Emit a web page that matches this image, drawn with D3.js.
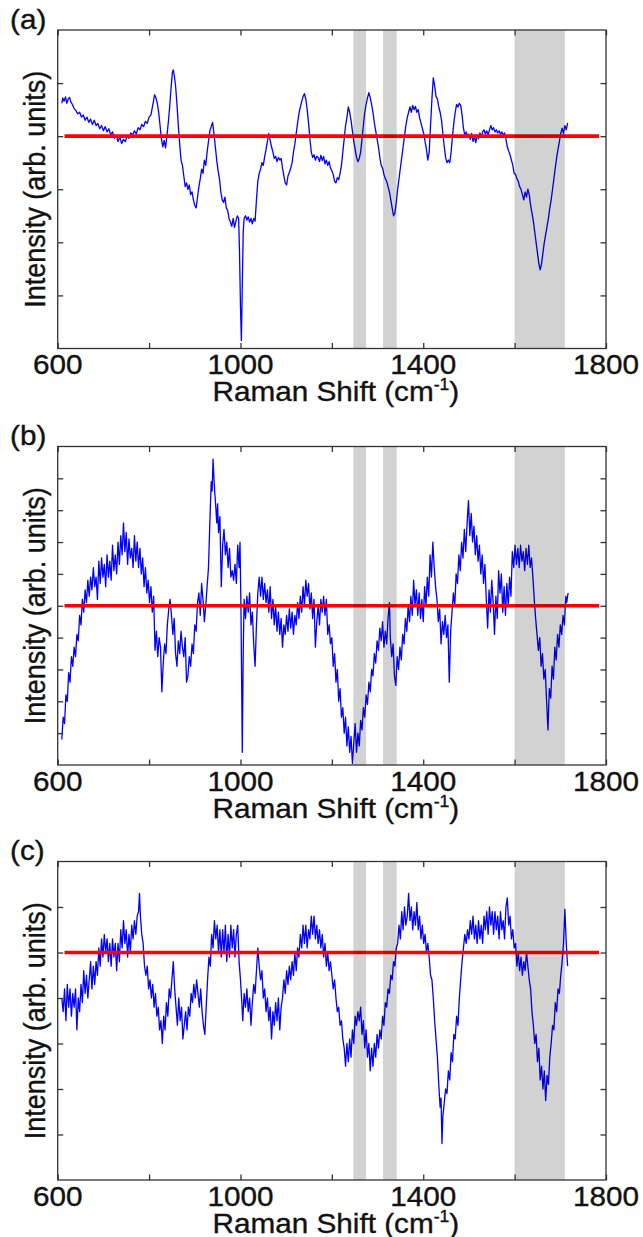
<!DOCTYPE html>
<html>
<head>
<meta charset="utf-8">
<script src="https://cdn.jsdelivr.net/npm/d3@7"></script>
<style>
body { margin: 0; background: #fff; }
text { font-family: "Liberation Sans", Arial, sans-serif; fill: #111; stroke: #111; stroke-width: 0.35; }
</style>
</head>
<body>
<div id="app"></div>
<script>
// data: [Raman shift (cm-1), intensity (arb. units)]
var spectrumA = [[609,0.62],[611,0.72],[614,0.66],[617,0.74],[620,0.62],[623,0.70],[626,0.73],[629,0.64],[632,0.60],[636,0.52],[640,0.48],[644,0.42],[648,0.45],[652,0.36],[656,0.40],[660,0.30],[664,0.36],[668,0.26],[672,0.32],[676,0.22],[680,0.30],[684,0.20],[688,0.24],[692,0.14],[696,0.20],[700,0.10],[704,0.18],[708,0.08],[712,0.14],[716,0.02],[720,0.08],[724,-0.04],[728,0.02],[732,-0.10],[736,-0.02],[740,-0.14],[744,-0.06],[748,-0.10],[752,0.00],[756,-0.04],[760,0.06],[764,0.02],[768,0.10],[772,0.04],[776,0.16],[780,0.12],[784,0.22],[788,0.18],[792,0.28],[796,0.24],[800,0.36],[804,0.40],[808,0.58],[812,0.78],[815,0.72],[818,0.62],[821,0.45],[824,0.20],[827,-0.05],[830,-0.20],[833,-0.08],[836,-0.22],[839,0.00],[842,0.25],[845,0.55],[848,0.90],[851,1.20],[853,1.25],[855,1.15],[858,0.95],[861,0.60],[864,0.20],[867,-0.15],[870,-0.45],[873,-0.55],[876,-0.75],[879,-0.95],[882,-0.88],[885,-1.00],[888,-0.92],[891,-1.10],[894,-1.05],[897,-1.20],[900,-1.30],[903,-1.35],[906,-1.15],[909,-0.95],[912,-0.80],[915,-0.62],[918,-0.70],[921,-0.45],[924,-0.55],[927,-0.30],[930,-0.10],[933,0.10],[936,0.18],[939,0.26],[942,0.05],[945,-0.20],[948,-0.45],[951,-0.65],[954,-0.80],[957,-1.05],[960,-1.20],[963,-1.25],[966,-1.15],[969,-1.35],[972,-1.40],[975,-1.55],[978,-1.62],[981,-1.70],[984,-1.55],[987,-1.72],[990,-1.60],[993,-1.50],[996,-1.55],[998,-2.20],[1000,-3.20],[1002,-3.85],[1004,-2.80],[1006,-1.80],[1008,-1.55],[1011,-1.50],[1014,-1.58],[1017,-1.52],[1020,-1.62],[1023,-1.55],[1026,-1.65],[1029,-1.55],[1032,-1.60],[1035,-1.20],[1038,-0.85],[1041,-0.70],[1044,-0.62],[1047,-0.50],[1050,-0.55],[1053,-0.38],[1056,-0.25],[1059,-0.10],[1062,0.05],[1065,-0.08],[1068,-0.20],[1071,-0.30],[1074,-0.42],[1077,-0.38],[1080,-0.48],[1083,-0.40],[1086,-0.45],[1089,-0.42],[1092,-0.60],[1095,-0.75],[1098,-0.88],[1101,-0.92],[1104,-0.75],[1107,-0.68],[1110,-0.60],[1113,-0.50],[1116,-0.30],[1119,-0.15],[1122,0.05],[1125,0.25],[1128,0.42],[1131,0.55],[1134,0.65],[1137,0.75],[1140,0.80],[1143,0.70],[1146,0.50],[1149,0.25],[1152,-0.05],[1155,-0.30],[1158,-0.40],[1161,-0.35],[1164,-0.45],[1167,-0.38],[1170,-0.40],[1173,-0.48],[1176,-0.36],[1179,-0.46],[1182,-0.38],[1185,-0.52],[1188,-0.45],[1191,-0.55],[1194,-0.48],[1197,-0.60],[1200,-0.65],[1203,-0.72],[1206,-0.85],[1209,-0.88],[1212,-0.78],[1215,-0.82],[1218,-0.70],[1221,-0.55],[1224,-0.30],[1227,-0.05],[1230,0.20],[1233,0.35],[1236,0.55],[1239,0.45],[1242,0.30],[1245,0.10],[1248,-0.10],[1251,-0.25],[1254,-0.40],[1257,-0.48],[1260,-0.42],[1263,-0.30],[1266,-0.05],[1269,0.20],[1272,0.45],[1275,0.60],[1278,0.72],[1281,0.82],[1284,0.72],[1287,0.60],[1290,0.45],[1293,0.25],[1296,0.10],[1299,-0.05],[1302,-0.20],[1305,-0.40],[1308,-0.55],[1311,-0.60],[1314,-0.72],[1317,-0.80],[1320,-0.85],[1323,-0.95],[1326,-1.05],[1329,-1.20],[1332,-1.35],[1335,-1.50],[1338,-1.45],[1341,-1.25],[1344,-1.00],[1347,-0.80],[1350,-0.60],[1353,-0.40],[1356,-0.20],[1359,0.00],[1362,0.20],[1365,0.35],[1368,0.45],[1371,0.55],[1374,0.45],[1377,0.58],[1380,0.50],[1383,0.56],[1386,0.45],[1389,0.50],[1392,0.35],[1395,0.25],[1398,0.15],[1401,0.05],[1404,-0.10],[1407,-0.25],[1410,-0.45],[1413,-0.30],[1416,0.20],[1419,0.70],[1422,1.10],[1425,0.95],[1428,0.75],[1431,0.70],[1434,0.55],[1437,0.45],[1440,0.30],[1443,0.05],[1446,-0.20],[1449,-0.40],[1452,-0.50],[1455,-0.45],[1458,-0.50],[1461,-0.30],[1464,0.00],[1467,0.25],[1470,0.45],[1473,0.60],[1476,0.55],[1479,0.62],[1482,0.58],[1485,0.40],[1488,0.15],[1491,0.02],[1494,0.08],[1497,-0.02],[1500,0.04],[1503,-0.06],[1506,0.05],[1509,-0.10],[1512,0.00],[1515,-0.12],[1518,0.02],[1521,-0.05],[1524,0.06],[1527,-0.02],[1530,0.08],[1533,0.12],[1536,0.04],[1539,0.10],[1542,0.02],[1545,0.12],[1548,0.20],[1551,0.12],[1554,0.16],[1557,0.08],[1560,0.12],[1563,0.06],[1566,0.10],[1569,0.04],[1572,0.08],[1575,0.02],[1578,0.06],[1581,-0.05],[1584,-0.20],[1587,-0.28],[1590,-0.35],[1593,-0.45],[1596,-0.55],[1599,-0.70],[1602,-0.72],[1605,-0.80],[1608,-0.85],[1611,-0.95],[1614,-1.00],[1617,-1.10],[1620,-1.20],[1623,-1.05],[1626,-1.15],[1629,-1.00],[1632,-1.10],[1635,-1.30],[1638,-1.45],[1641,-1.60],[1644,-1.80],[1647,-2.00],[1650,-2.20],[1653,-2.40],[1656,-2.52],[1659,-2.40],[1662,-2.20],[1665,-2.00],[1668,-1.85],[1671,-1.70],[1674,-1.55],[1677,-1.35],[1680,-1.20],[1683,-1.00],[1686,-0.80],[1689,-0.60],[1692,-0.40],[1695,-0.25],[1698,-0.10],[1701,0.05],[1704,0.15],[1707,0.05],[1710,0.20],[1713,0.12],[1716,0.25]];

var spectrumB = [[609,-4.2],[612,-3.5],[615,-3.7],[618,-2.8],[621,-3.0],[624,-2.1],[627,-2.4],[630,-1.6],[633,-1.9],[636,-1.3],[639,-1.6],[642,-0.9],[645,-1.1],[648,-0.3],[651,-0.6],[654,0.2],[657,-0.2],[660,0.5],[663,0.1],[666,0.8],[669,0.3],[672,0.9],[675,0.5],[678,1.2],[681,0.6],[684,0.9],[687,0.2],[690,1.4],[693,0.7],[696,1.5],[699,0.9],[702,1.3],[705,0.6],[708,1.6],[711,0.9],[714,1.4],[717,0.8],[720,1.9],[723,1.1],[726,1.6],[729,1.0],[732,2.0],[735,1.3],[738,2.2],[741,1.6],[744,2.6],[747,1.7],[750,2.3],[753,1.3],[756,2.1],[759,1.5],[762,1.8],[765,1.2],[768,2.2],[771,1.4],[774,2.0],[777,1.2],[780,1.8],[783,1.0],[786,1.5],[789,0.6],[792,1.2],[795,0.4],[798,0.8],[801,0.1],[804,0.6],[807,-0.2],[810,0.3],[813,-1.4],[816,-0.8],[819,-1.6],[822,-1.0],[825,-1.3],[828,-2.7],[831,-1.8],[834,-1.2],[837,-1.5],[840,-0.6],[843,-0.1],[846,0.2],[849,-0.3],[852,-0.9],[855,-0.4],[858,-1.5],[861,-1.9],[864,-1.1],[867,-1.5],[870,-0.8],[873,-1.3],[876,-1.6],[879,-1.0],[882,-2.4],[885,-2.2],[888,-1.6],[891,-1.9],[894,-1.2],[897,-1.5],[900,-0.6],[903,-0.8],[906,0.1],[909,0.4],[912,-0.3],[915,0.7],[918,0.2],[921,-0.5],[924,0.0],[927,0.6],[930,1.2],[933,2.6],[936,3.9],[938,3.6],[940,4.6],[942,4.0],[944,3.5],[946,3.1],[948,2.6],[950,3.2],[952,2.3],[955,2.8],[958,0.6],[961,1.9],[964,2.4],[967,1.6],[970,2.0],[973,1.2],[976,1.8],[979,0.9],[982,1.1],[985,0.8],[988,1.3],[991,0.7],[994,1.9],[997,1.2],[999,2.0],[1001,0.0],[1003,-3.0],[1004,-4.6],[1006,-1.5],[1008,0.2],[1011,-0.4],[1014,0.3],[1017,-0.2],[1020,0.4],[1023,-0.6],[1026,-0.2],[1029,-1.2],[1032,-1.9],[1035,-0.6],[1038,0.4],[1041,0.9],[1044,0.3],[1047,0.9],[1050,0.2],[1053,0.7],[1056,0.1],[1059,0.5],[1062,-0.2],[1065,0.6],[1068,-0.4],[1071,0.2],[1074,-0.6],[1077,0.0],[1080,-0.8],[1083,-0.2],[1086,-0.9],[1089,-0.4],[1092,-1.3],[1095,-0.6],[1098,-0.9],[1101,-0.3],[1104,-0.8],[1107,-0.1],[1110,-0.7],[1113,-0.2],[1116,-0.9],[1119,-0.3],[1122,-0.6],[1125,0.1],[1128,-0.4],[1131,0.3],[1134,-0.2],[1137,0.6],[1140,0.0],[1143,0.8],[1146,0.3],[1149,0.7],[1152,-0.1],[1155,0.4],[1158,-0.4],[1161,0.2],[1164,-1.3],[1167,-0.5],[1170,0.0],[1173,-0.6],[1176,0.2],[1179,-0.2],[1182,0.3],[1185,-0.3],[1188,0.2],[1191,-0.9],[1194,-0.6],[1197,-1.2],[1200,-1.0],[1203,-1.9],[1206,-1.5],[1209,-2.4],[1212,-2.0],[1215,-3.0],[1218,-2.6],[1221,-3.5],[1224,-3.2],[1227,-4.0],[1230,-3.5],[1233,-4.4],[1236,-3.8],[1239,-4.6],[1242,-4.1],[1245,-4.95],[1248,-4.3],[1251,-3.7],[1254,-4.6],[1257,-4.0],[1260,-4.4],[1263,-3.6],[1266,-3.9],[1269,-3.2],[1272,-3.5],[1275,-2.8],[1278,-3.1],[1281,-2.4],[1284,-2.7],[1287,-2.0],[1290,-2.2],[1293,-1.5],[1296,-1.8],[1299,-1.1],[1302,-1.4],[1305,-0.7],[1308,-1.1],[1311,-0.5],[1314,-1.3],[1317,-0.8],[1320,-1.2],[1323,-0.4],[1326,0.1],[1328,-1.0],[1331,-1.6],[1334,-1.2],[1337,-2.2],[1340,-2.5],[1343,-1.6],[1346,-2.0],[1349,-1.3],[1352,-1.7],[1355,-0.9],[1358,-1.2],[1361,-0.4],[1364,-0.8],[1367,0.0],[1370,-0.5],[1373,0.3],[1376,-0.3],[1379,0.8],[1382,0.0],[1385,0.5],[1388,-0.3],[1391,0.4],[1394,-0.4],[1397,0.2],[1400,-0.5],[1403,0.6],[1406,0.0],[1409,0.9],[1412,0.3],[1415,1.6],[1418,0.9],[1421,2.0],[1424,1.2],[1427,0.6],[1430,0.2],[1433,-0.5],[1436,-0.1],[1439,-1.2],[1442,-0.5],[1445,-0.9],[1448,-0.3],[1451,-1.0],[1454,-0.6],[1457,-2.4],[1460,-0.8],[1463,-0.2],[1466,0.4],[1469,0.0],[1472,1.0],[1475,0.7],[1478,1.6],[1481,1.1],[1484,2.0],[1487,1.5],[1490,2.4],[1493,1.7],[1496,2.6],[1499,3.3],[1502,2.2],[1505,2.9],[1508,2.0],[1511,2.5],[1514,1.6],[1517,2.2],[1520,1.4],[1523,1.9],[1526,1.0],[1529,1.6],[1532,0.7],[1535,1.3],[1538,0.2],[1541,-0.7],[1544,0.5],[1547,-0.2],[1550,0.8],[1553,0.1],[1556,-0.9],[1559,0.3],[1562,-0.4],[1565,1.1],[1568,0.4],[1571,1.0],[1574,-0.2],[1577,0.6],[1580,-0.3],[1583,0.7],[1586,0.0],[1589,0.9],[1592,0.3],[1595,1.7],[1598,1.2],[1601,1.9],[1604,1.3],[1607,1.8],[1610,1.2],[1613,1.9],[1616,1.4],[1619,1.7],[1622,1.1],[1625,1.8],[1628,1.3],[1631,1.9],[1634,1.2],[1637,1.5],[1640,0.9],[1643,0.2],[1646,-0.4],[1649,-0.9],[1652,-1.4],[1655,-1.0],[1658,-1.9],[1661,-1.5],[1664,-2.3],[1667,-2.0],[1670,-3.0],[1673,-3.9],[1676,-2.6],[1679,-2.9],[1682,-1.9],[1685,-2.3],[1688,-1.3],[1691,-1.7],[1694,-0.9],[1697,-1.3],[1700,-0.6],[1703,-0.9],[1706,-0.3],[1709,-0.6],[1712,0.3],[1714,0.1],[1717,0.4]];

var spectrumC = [[609,-1.0],[612,-1.3],[615,-0.8],[618,-1.5],[621,-0.7],[624,-1.2],[627,-0.8],[630,-1.4],[633,-0.9],[636,-1.2],[639,-0.8],[642,-1.7],[645,-1.0],[648,-1.3],[651,-0.7],[654,-1.1],[657,-0.4],[660,-0.9],[663,-0.5],[666,-1.0],[669,-0.6],[672,-0.2],[675,-0.8],[678,-0.3],[681,-0.7],[684,-0.2],[687,-0.5],[690,0.1],[693,-0.3],[696,0.3],[699,-0.1],[702,0.4],[705,0.0],[708,0.3],[711,-0.2],[714,0.2],[717,-0.3],[720,0.3],[723,-0.1],[726,0.2],[729,-0.4],[732,0.2],[735,-0.2],[738,0.5],[741,0.1],[744,0.7],[747,0.2],[750,0.5],[753,-0.1],[756,0.4],[759,0.0],[762,0.6],[765,0.3],[768,0.7],[771,0.4],[774,0.8],[777,0.9],[779,1.3],[781,0.8],[784,0.4],[787,0.2],[790,-0.3],[793,-0.5],[796,-0.3],[799,-0.8],[802,-0.6],[805,-1.0],[808,-0.7],[811,-1.2],[814,-0.9],[817,-1.4],[820,-1.2],[823,-1.7],[826,-1.5],[829,-2.0],[832,-1.4],[835,-1.7],[838,-1.1],[841,-1.4],[844,-0.8],[847,-1.0],[850,-0.6],[853,-0.2],[856,-0.8],[859,-1.2],[862,-1.6],[865,-1.0],[868,-1.5],[871,-1.2],[874,-1.9],[877,-1.6],[880,-1.3],[883,-1.7],[886,-1.2],[889,-1.4],[892,-0.9],[895,-1.1],[898,-0.7],[901,-1.0],[904,-0.6],[907,-0.9],[910,-1.2],[913,-0.8],[916,-1.3],[919,-1.6],[922,-1.8],[925,-1.2],[928,-0.6],[931,-0.1],[934,-0.3],[937,0.4],[940,0.1],[943,0.7],[946,0.3],[949,0.6],[952,0.0],[955,0.5],[958,-0.1],[961,0.5],[964,0.0],[967,0.6],[970,-0.2],[973,0.4],[976,-0.1],[979,0.6],[982,0.1],[985,0.5],[988,-0.1],[991,0.4],[994,0.6],[997,-0.2],[1000,-0.6],[1003,-1.1],[1005,-1.5],[1008,-0.9],[1011,-1.2],[1014,-0.8],[1017,-1.3],[1020,-1.0],[1023,-1.6],[1026,-1.1],[1029,-0.7],[1032,-0.9],[1035,-0.4],[1038,0.1],[1041,-0.3],[1044,-0.6],[1047,-0.4],[1050,-1.0],[1053,-0.8],[1056,-1.3],[1059,-1.0],[1062,-1.5],[1065,-1.2],[1068,-1.9],[1071,-1.3],[1074,-1.6],[1077,-1.1],[1080,-1.5],[1083,-1.0],[1086,-1.7],[1089,-1.2],[1092,-1.0],[1095,-0.6],[1098,-0.9],[1101,-0.4],[1104,-0.7],[1107,-0.3],[1110,-0.6],[1113,-0.2],[1116,-0.5],[1119,0.0],[1122,-0.4],[1125,0.1],[1128,-0.1],[1131,0.4],[1134,0.1],[1137,0.6],[1140,0.2],[1143,0.6],[1146,0.1],[1149,0.5],[1152,0.3],[1155,0.8],[1158,0.4],[1161,0.8],[1164,0.3],[1167,0.6],[1170,0.2],[1173,0.5],[1176,0.1],[1179,0.4],[1182,-0.1],[1185,0.2],[1188,-0.3],[1191,0.0],[1194,-0.4],[1197,-0.2],[1200,-0.5],[1203,-0.8],[1206,-0.6],[1209,-1.0],[1212,-1.3],[1215,-1.2],[1218,-1.6],[1221,-1.5],[1224,-1.9],[1227,-2.1],[1230,-2.5],[1233,-2.0],[1236,-2.4],[1239,-1.9],[1242,-2.3],[1245,-1.7],[1248,-2.0],[1251,-1.4],[1254,-1.6],[1257,-1.3],[1260,-1.5],[1263,-1.2],[1266,-1.8],[1269,-1.5],[1272,-2.1],[1275,-1.7],[1278,-2.3],[1281,-2.0],[1284,-2.6],[1287,-2.1],[1290,-2.5],[1293,-2.0],[1296,-2.3],[1299,-1.8],[1302,-2.1],[1305,-1.7],[1308,-1.9],[1311,-1.4],[1314,-1.6],[1317,-1.1],[1320,-1.2],[1323,-0.8],[1326,-0.9],[1329,-0.5],[1332,-0.6],[1335,-0.2],[1338,-0.3],[1341,0.1],[1344,0.2],[1347,0.6],[1350,0.3],[1353,0.9],[1356,0.5],[1359,1.0],[1362,0.6],[1365,0.8],[1368,1.3],[1371,0.7],[1374,1.0],[1377,0.5],[1380,0.9],[1383,0.6],[1386,1.1],[1389,0.5],[1392,0.8],[1395,0.3],[1398,0.6],[1401,0.2],[1404,0.4],[1407,0.0],[1410,0.2],[1413,-0.1],[1416,-0.5],[1419,-0.6],[1422,-1.0],[1425,-1.5],[1428,-1.9],[1431,-2.3],[1434,-2.9],[1437,-3.4],[1439,-3.2],[1441,-4.2],[1443,-3.6],[1446,-3.3],[1449,-3.0],[1452,-3.1],[1455,-2.6],[1458,-2.8],[1461,-2.2],[1464,-2.4],[1467,-1.8],[1470,-1.9],[1473,-1.4],[1476,-1.6],[1479,-1.0],[1482,-0.6],[1485,-0.2],[1488,0.1],[1491,0.4],[1494,0.2],[1497,0.5],[1500,0.3],[1503,0.7],[1506,0.4],[1509,0.8],[1512,0.3],[1515,0.6],[1518,0.2],[1521,0.7],[1524,0.3],[1527,0.6],[1530,0.2],[1533,0.8],[1536,0.5],[1539,0.9],[1542,0.4],[1545,1.0],[1548,0.6],[1551,0.9],[1554,0.4],[1557,0.9],[1560,0.5],[1563,0.8],[1566,0.3],[1569,0.9],[1572,0.5],[1575,0.7],[1578,0.3],[1581,1.0],[1584,1.2],[1587,0.6],[1590,0.8],[1593,0.3],[1596,0.5],[1599,0.1],[1602,0.2],[1605,-0.3],[1608,0.0],[1611,-0.4],[1614,-0.1],[1617,-0.5],[1620,-0.2],[1623,-0.4],[1626,0.0],[1629,-0.3],[1632,-0.6],[1635,-0.8],[1638,-1.3],[1641,-1.6],[1644,-2.0],[1647,-1.8],[1650,-2.4],[1653,-2.1],[1656,-2.8],[1659,-2.5],[1662,-3.0],[1665,-2.6],[1668,-3.25],[1671,-2.7],[1674,-2.9],[1677,-2.3],[1680,-2.0],[1683,-1.6],[1686,-1.7],[1689,-1.1],[1692,-1.3],[1695,-0.8],[1698,-0.9],[1701,-0.5],[1704,-0.2],[1707,0.2],[1710,0.95],[1713,0.2],[1716,-0.3]];

// shaded bands (cm-1) and zero reference line
var bands = [[1247, 1275], [1312, 1342], [1600, 1710]];
var zeroLine = [[615, 0], [1785, 0]];

// axes
var xDomain = [600, 1800];
var xTicks = [600, 800, 1000, 1200, 1400, 1600, 1800];
var xTickLabels = [600, 1000, 1400, 1800];
var panelNames = ["(a)", "(b)", "(c)"];
var yDomains = [[-4, 2], [-5, 5], [-5, 2]];
var yTicksA = [-3, -2, -1, 0, 1];
var yTicksB = [-4, -3, -2, -1, 0, 1, 2, 3, 4];
var yTicksC = [-4, -3, -2, -1, 0, 1];

var spectra = [spectrumA, spectrumB, spectrumC];
var yTicks = [yTicksA, yTicksB, yTicksC];

// layout
var W = 643, H = 1237;
var left = 57.7, plotW = 548.3, plotH = 318.5;
var tops = [30, 446.5, 861.5];
var stretch = 1.1; // text in the original is a bit wide

var svg = d3.select("#app")
  .append("svg")
    .attr("width", W)
    .attr("height", H);

for (var i = 0; i < 3; i++) {
  drawPanel(i);
}

function drawPanel(i) {
  var g = svg.append("g")
    .attr("transform", "translate(" + left + "," + tops[i] + ")");

  var x = d3.scaleLinear().domain(xDomain).range([0, plotW]);
  var y = d3.scaleLinear().domain(yDomains[i]).range([plotH, 0]);

  var line = d3.line()
    .x(function(d) { return x(d[0]); })
    .y(function(d) { return y(d[1]); });

  // spectrum
  g.append("path")
    .datum(spectra[i])
    .attr("d", line)
    .attr("fill", "none")
    .attr("stroke", "#0000ff")
    .attr("stroke-width", 1.3)
    .attr("stroke-linejoin", "round");

  // zero line
  g.append("path")
    .datum(zeroLine)
    .attr("d", line)
    .attr("stroke", "#ff0000")
    .attr("stroke-width", 3.6);

  // grey bands, translucent, on top
  g.selectAll(".band")
    .data(bands)
    .join("rect")
      .attr("class", "band")
      .attr("x", function(d) { return x(d[0]); })
      .attr("y", 0)
      .attr("width", function(d) { return x(d[1]) - x(d[0]); })
      .attr("height", plotH)
      .attr("fill", "#000")
      .attr("fill-opacity", 0.175);

  // axes with inward ticks, mirrored
  var tick = 5.5;
  var axisStyle = function(sel) {
    sel.select(".domain").remove();
    sel.selectAll("line").attr("stroke", "#333").attr("stroke-width", 1.3);
    sel.selectAll("text").remove();
  };
  g.append("g").attr("transform", "translate(0," + plotH + ")")
    .call(d3.axisBottom(x).tickValues(xTicks).tickSize(-tick)).call(axisStyle);
  g.append("g")
    .call(d3.axisTop(x).tickValues(xTicks).tickSize(-tick)).call(axisStyle);
  g.append("g")
    .call(d3.axisLeft(y).tickValues(yTicks[i]).tickSize(-tick)).call(axisStyle);
  g.append("g").attr("transform", "translate(" + plotW + ",0)")
    .call(d3.axisRight(y).tickValues(yTicks[i]).tickSize(-tick)).call(axisStyle);

  // box
  g.append("rect")
    .attr("width", plotW)
    .attr("height", plotH)
    .attr("fill", "none")
    .attr("stroke", "#333")
    .attr("stroke-width", 1.3);

  // tick labels
  g.selectAll(".xlab")
    .data(xTickLabels)
    .join("text")
      .attr("class", "xlab")
      .attr("text-anchor", "middle")
      .attr("font-size", 27)
      .attr("transform", function(d) {
        return "translate(" + x(d) + "," + (plotH + 25.5) + ") scale(" + stretch + ",1)";
      })
      .text(function(d) { return d; });

  // x title
  var xt = g.append("text")
    .attr("text-anchor", "middle")
    .attr("font-size", 27)
    .attr("transform", "translate(" + (plotW / 2 + 4) + "," + (plotH + 52.5) + ") scale(" + stretch + ",1)");
  xt.append("tspan").text("Raman Shift (cm");
  xt.append("tspan").attr("font-size", 16).attr("dy", -11).text("-1");
  xt.append("tspan").attr("dy", 11).text(")");

  // y title
  svg.append("text")
    .attr("text-anchor", "middle")
    .attr("font-size", 27)
    .attr("transform", "translate(" + 45 + "," + (tops[i] + plotH / 2) + ") rotate(-90) scale(1," + stretch + ")")
    .text("Intensity (arb. units)");

  // panel letter
  svg.append("text")
    .attr("font-size", 27)
    .attr("transform", "translate(" + 10 + "," + (tops[i] - 1.5) + ") scale(" + stretch + ",1)")
    .text(panelNames[i]);
}
</script>
</body>
</html>
